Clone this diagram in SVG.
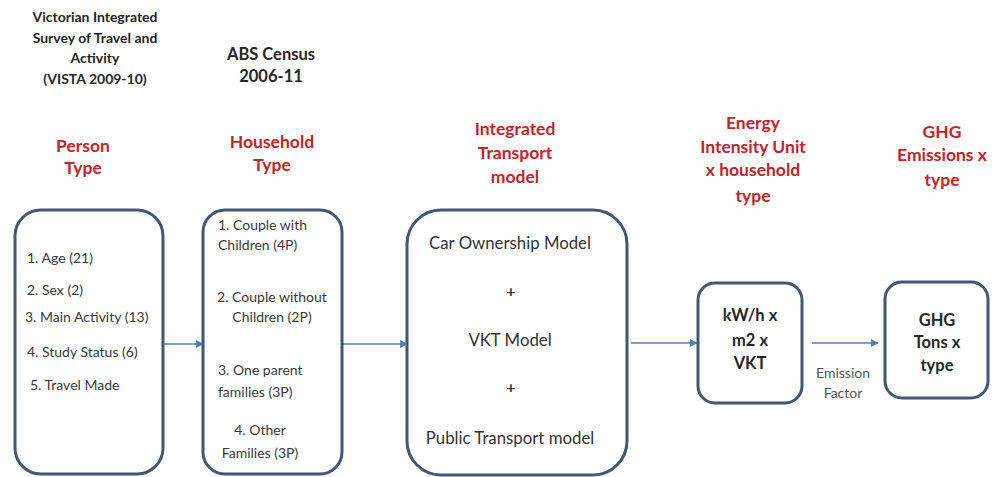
<svg xmlns="http://www.w3.org/2000/svg" width="998" height="477" viewBox="0 0 998 477">
  <style>
    .box { fill: #ffffff; stroke: #3e5878; stroke-width: 3; }
    .link { fill: none; stroke: #4f7fb8; stroke-width: 1.6; }
    .src { font-family: Lato, "Liberation Sans", sans-serif; font-weight: bold; fill: #262626; }
    .head { font-family: Lato, "Liberation Sans", sans-serif; font-weight: bold; fill: #c3242b; font-size: 17.5px; }
    .item { font-family: Lato, "Liberation Sans", sans-serif; fill: #3a3a3a; font-size: 14px; }
    .model { font-family: Lato, "Liberation Sans", sans-serif; fill: #333333; font-size: 16.8px; }
    .plus { font-family: Lato, "Liberation Sans", sans-serif; font-weight: bold; fill: #333333; font-size: 16px; }
    .val { font-family: Lato, "Liberation Sans", sans-serif; font-weight: bold; fill: #262626; font-size: 16.5px; }
    .note { font-family: Lato, "Liberation Sans", sans-serif; fill: #555555; font-size: 14px; }
    .mid { text-anchor: middle; }
  </style>
  <defs>
    <marker id="arrow" viewBox="0 0 10 10" refX="9" refY="5" markerWidth="5" markerHeight="5" orient="auto" markerUnits="strokeWidth">
      <path d="M0,0 L10,5 L0,10 z" fill="#4f7fb8"/>
    </marker>
  </defs>
  <rect width="998" height="477" fill="#ffffff"/>

  <!-- column captions -->
  <g id="captions">
    <text class="src mid" font-size="14" x="95" y="22">Victorian Integrated</text>
    <text class="src mid" font-size="14" x="95" y="43">Survey of Travel and</text>
    <text class="src mid" font-size="14" x="95" y="63">Activity</text>
    <text class="src mid" font-size="14" x="95" y="84">(VISTA 2009-10)</text>

    <text class="src mid" font-size="16.5" x="271" y="60">ABS Census</text>
    <text class="src mid" font-size="16.5" x="271" y="82">2006-11</text>

    <text class="head mid" x="83" y="152">Person</text>
    <text class="head mid" x="83" y="174">Type</text>

    <text class="head mid" x="272" y="148">Household</text>
    <text class="head mid" x="272" y="171">Type</text>

    <text class="head mid" x="515" y="135">Integrated</text>
    <text class="head mid" x="515" y="159">Transport</text>
    <text class="head mid" x="515" y="183">model</text>

    <text class="head mid" x="753" y="129">Energy</text>
    <text class="head mid" x="753" y="153">Intensity Unit</text>
    <text class="head mid" x="753" y="176">x household</text>
    <text class="head mid" x="753" y="202">type</text>

    <text class="head mid" x="942" y="138">GHG</text>
    <text class="head mid" x="942" y="161">Emissions x</text>
    <text class="head mid" x="942" y="186">type</text>
  </g>

  <!-- connectors -->
  <g id="connectors">
    <line class="link" x1="164" y1="344" x2="203" y2="344" marker-end="url(#arrow)"/>
    <line class="link" x1="343" y1="344" x2="407" y2="344" marker-end="url(#arrow)"/>
    <line class="link" x1="631" y1="343" x2="697" y2="343" marker-end="url(#arrow)"/>
    <line class="link" x1="812" y1="343" x2="878" y2="343" marker-end="url(#arrow)"/>
    <text class="note mid" x="843" y="378">Emission</text>
    <text class="note mid" x="843" y="398">Factor</text>
  </g>

  <g id="person-type">
    <rect class="box" x="15" y="210" width="148" height="264" rx="26" ry="26"/>
    <text class="item" x="27" y="263">1. Age (21)</text>
    <text class="item" x="27" y="295">2. Sex (2)</text>
    <text class="item" x="25" y="322">3. Main Activity (13)</text>
    <text class="item" x="27" y="357">4. Study Status (6)</text>
    <text class="item" x="30" y="390">5. Travel Made</text>
  </g>

  <g id="household-type">
    <rect class="box" x="203" y="210" width="139" height="264" rx="22" ry="22"/>
    <text class="item" x="218" y="230">1. Couple with</text>
    <text class="item" x="218" y="250">Children (4P)</text>
    <text class="item mid" x="272" y="302">2. Couple without</text>
    <text class="item mid" x="272" y="322">Children (2P)</text>
    <text class="item" x="218" y="375">3. One parent</text>
    <text class="item" x="218" y="397">families (3P)</text>
    <text class="item mid" x="260" y="435">4. Other</text>
    <text class="item mid" x="260" y="458">Families (3P)</text>
  </g>

  <g id="transport-model">
    <rect class="box" x="407" y="210" width="220" height="265" rx="34" ry="34"/>
    <text class="model mid" x="510" y="249">Car Ownership Model</text>
    <text class="plus mid" x="511" y="297">+</text>
    <text class="model mid" x="510" y="346">VKT Model</text>
    <text class="plus mid" x="511" y="393">+</text>
    <text class="model mid" x="510" y="444">Public Transport model</text>
  </g>

  <g id="energy-intensity">
    <rect class="box" x="698" y="283" width="104" height="120" rx="17" ry="17"/>
    <text class="val mid" x="750" y="321">kW/h x</text>
    <text class="val mid" x="750" y="346">m2 x</text>
    <text class="val mid" x="750" y="369">VKT</text>
  </g>

  <g id="ghg-emissions">
    <rect class="box" x="885" y="282" width="103" height="116" rx="17" ry="17"/>
    <text class="val mid" x="937" y="326">GHG</text>
    <text class="val mid" x="937" y="348">Tons x</text>
    <text class="val mid" x="937" y="371">type</text>
  </g>
</svg>
